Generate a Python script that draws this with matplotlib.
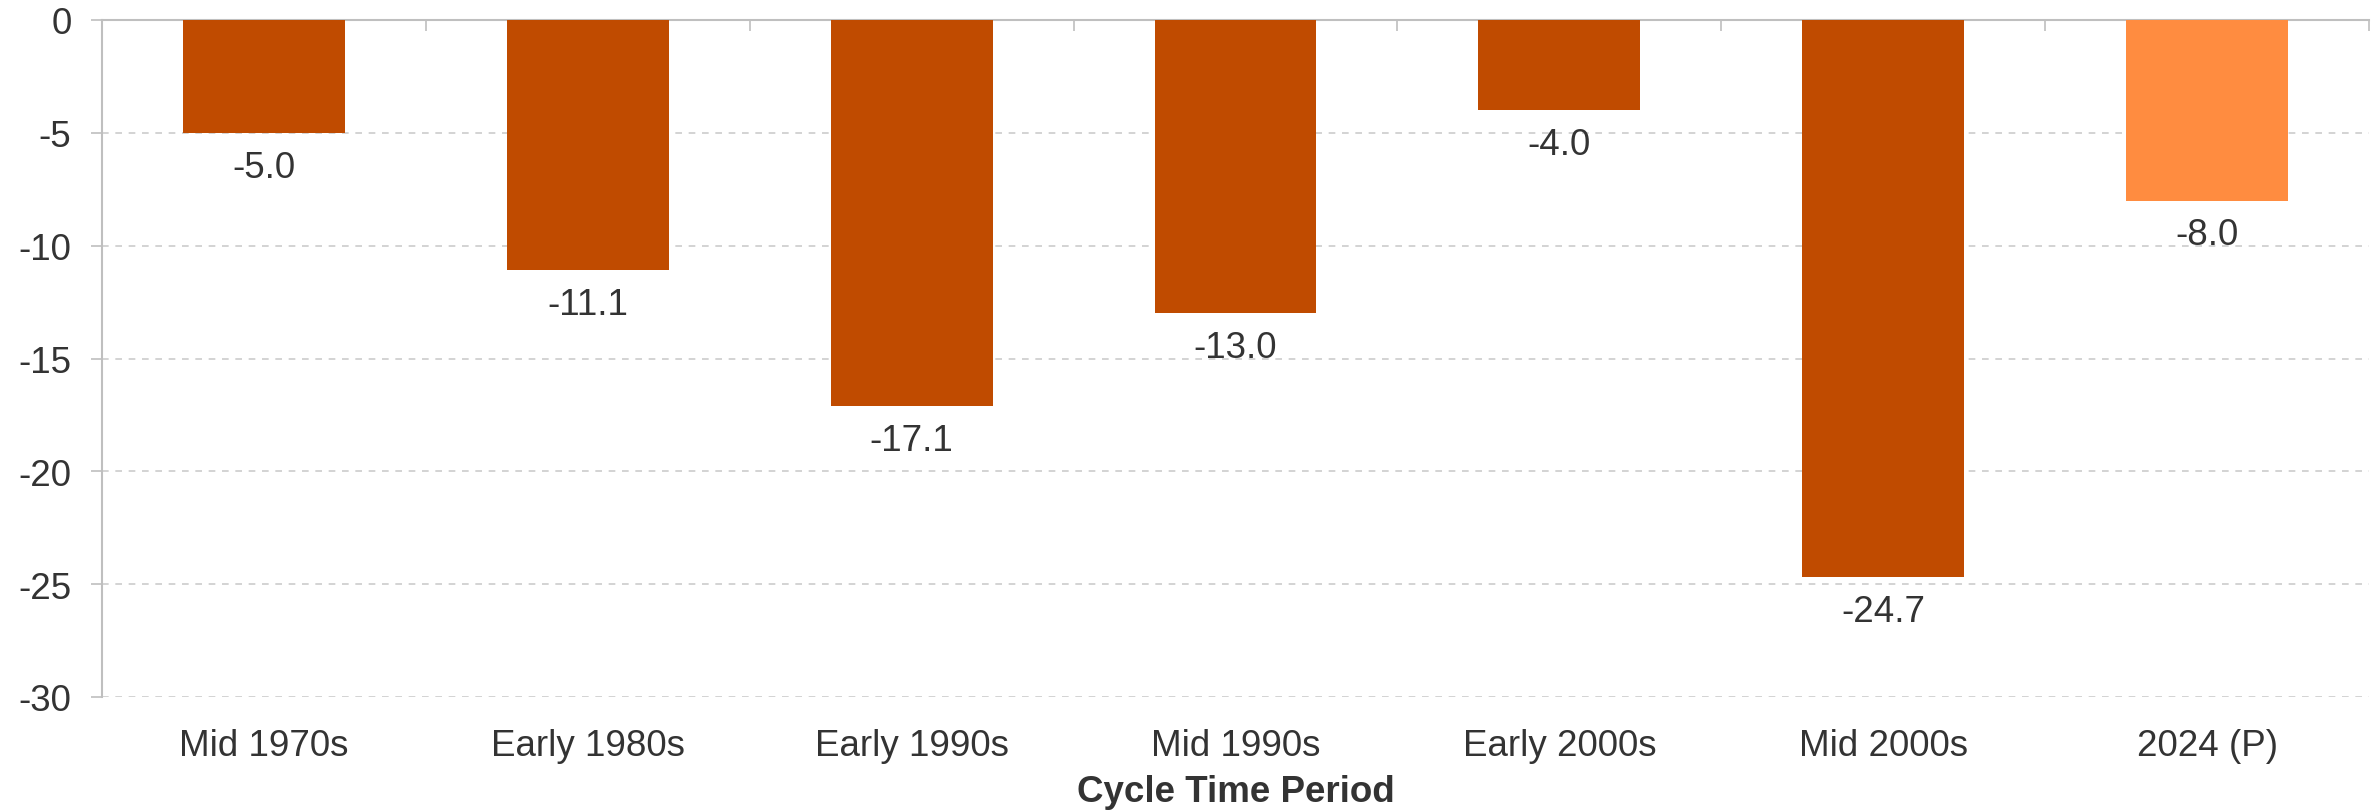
import matplotlib
matplotlib.use("Agg")
import matplotlib.pyplot as plt
import numpy as np

categories = ["Mid 1970s", "Early 1980s", "Early 1990s", "Mid 1990s",
              "Early 2000s", "Mid 2000s", "2024 (P)"]
values = [-5.0, -11.1, -17.1, -13.0, -4.0, -24.7, -8.0]
y_ticks = [0, -5, -10, -15, -20, -25, -30]

plt.rcParams['font.family'] = ['Liberation Sans', 'DejaVu Sans']
txt = '#333333'
grey = '#BFBFBF'
fs = 26.5

fig = plt.figure(figsize=(23.8, 8.12), dpi=100)
ax = fig.add_axes([102 / 2380, 1 - 698 / 812, (2369 - 102) / 2380, (698 - 21) / 812])

x = np.arange(len(categories))
colors = ['#C04B00'] * (len(categories) - 1) + ['#FF8C40']
ax.bar(x, values, width=0.5, color=colors, zorder=3)

for xi, v in zip(x, values):
    ax.annotate(f"{v:.1f}", (xi, v), xytext=(0, -12), textcoords='offset points',
                ha='center', va='top', fontsize=fs, color=txt, zorder=4)

ax.set_xlim(-0.5, len(categories) - 0.5)
ax.set_ylim(-30, 0)
ax.set_yticks(y_ticks)
ax.set_yticklabels([str(t) for t in y_ticks])
ax.yaxis.grid(True, linestyle=(0, (4, 4)), color='#CCCCCC', linewidth=1.2, zorder=0)

ax.set_xticks(x)
ax.set_xticklabels(categories)
ax.set_xticks(np.arange(len(categories) + 1) - 0.5, minor=True)
ax.tick_params(axis='x', which='major', length=0, pad=22, labelsize=fs, labelcolor=txt)
ax.tick_params(axis='x', which='minor', bottom=False, top=True, direction='in',
               length=8, color=grey, width=1.2)
ax.tick_params(axis='y', which='major', length=8, color=grey, width=1.2, pad=14,
               labelsize=fs, labelcolor=txt)

for s in ['right', 'bottom']:
    ax.spines[s].set_visible(False)
for s in ['top', 'left']:
    ax.spines[s].set_color(grey)
    ax.spines[s].set_linewidth(1.5)

ax.set_xlabel("Cycle Time Period", fontsize=fs, fontweight='bold', color=txt, labelpad=8)

fig.savefig("out.png", dpi=100)
